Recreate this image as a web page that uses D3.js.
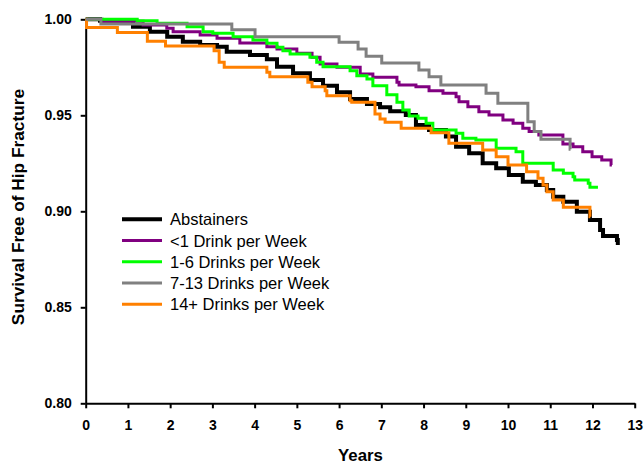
<!DOCTYPE html>
<meta charset="utf-8">
<style>
body { margin: 0; background: #fff; }
.axis text {
  font: bold 14px "Liberation Sans", Arial, sans-serif;
  fill: #000;
}
.axis path,
.axis line {
  fill: none;
  stroke: #000;
  stroke-width: 2px;
}
.title {
  font: bold 16.8px "Liberation Sans", Arial, sans-serif;
}
.ytitle {
  font: bold 17.3px "Liberation Sans", Arial, sans-serif;
}
.legend text {
  font: 16.5px "Liberation Sans", Arial, sans-serif;
}
</style>
<body>
<svg></svg>
<script src="https://cdn.jsdelivr.net/npm/d3@7"></script>
<script>

// [years, survival] step points
var abstainers = [[0,1.0],[0.34,0.9993],[1.12,0.9961],[1.52,0.9935],[1.93,0.9909],[2.3,0.9883],
  [2.71,0.9866],[3.11,0.9857],[3.34,0.9831],[3.89,0.9814],[4.29,0.9792],[4.53,0.9753],[4.91,0.9719],
  [5.31,0.9684],[5.62,0.9654],[5.95,0.962],[6.26,0.9585],[6.66,0.9559],[6.97,0.9542],[7.21,0.9521],
  [7.58,0.9502],[7.82,0.9449],[8.13,0.9423],[8.53,0.9389],[8.77,0.9336],[9.08,0.9302],[9.4,0.925],
  [9.72,0.9224],[10.02,0.9189],[10.35,0.9154],[10.66,0.9137],[10.92,0.9111],[11.07,0.9076],
  [11.31,0.905],[11.63,0.8998],[11.94,0.8955],[12.18,0.8903],[12.25,0.8871],[12.58,0.8851],[12.6,0.8825]];

var lessThanOne = [[0,1.0],[0.39,0.999],[1.36,0.997],[1.92,0.9953],[2.07,0.9935],[2.71,0.9918],
  [3.11,0.9901],[3.65,0.9877],[4.29,0.9857],[4.53,0.9845],[5.0,0.9823],[5.36,0.9802],[5.55,0.9767],
  [5.95,0.975],[6.5,0.9715],[6.8,0.9698],[7.37,0.9672],[7.42,0.9658],[7.82,0.9649],[8.13,0.9628],
  [8.46,0.9615],[8.77,0.9597],[8.84,0.9571],[9.05,0.9545],[9.31,0.9518],[9.55,0.9501],[9.88,0.9475],
  [10.12,0.9458],[10.35,0.9432],[10.5,0.9415],[10.73,0.9397],[11.3,0.935],[11.54,0.9336],
  [11.77,0.931],[11.99,0.9284],[12.22,0.9267],[12.44,0.9241],[12.46,0.9241]];

var oneToSix = [[0,1.0],[1.22,0.9993],[1.69,0.9979],[2.4,0.9961],[2.78,0.9935],[3.01,0.9927],
  [3.49,0.9909],[3.96,0.9892],[4.29,0.9875],[4.53,0.9854],[4.67,0.9836],[4.84,0.9819],[5.31,0.9802],
  [5.47,0.9776],[5.62,0.9753],[6.26,0.9732],[6.42,0.9706],[6.66,0.9689],[6.8,0.9654],[7.13,0.9607],
  [7.37,0.9568],[7.51,0.9528],[7.66,0.9496],[7.87,0.9484],[8.06,0.9458],[8.22,0.9423],[8.77,0.9406],
  [8.93,0.938],[9.24,0.9371],[9.72,0.9328],[10.19,0.931],[10.35,0.925],[11.07,0.9215],[11.31,0.9198],
  [11.54,0.918],[11.58,0.9163],[11.9,0.9146],[11.94,0.9125],[12.13,0.9125]];

var sevenToThirteen = [[0,1.0],[0.36,0.9976],[3.46,0.9945],[4.01,0.9909],[6.0,0.988],[6.45,0.9845],
  [6.64,0.9807],[7.01,0.9772],[7.89,0.9736],[8.13,0.9701],[8.41,0.9658],[9.48,0.9615],[9.76,0.9563],
  [10.47,0.9467],[10.62,0.9415],[10.78,0.9375],[11.47,0.9323],[11.48,0.9323]];

var fourteenPlus = [[0,1.0],[0.02,0.9957],[0.75,0.9931],[1.46,0.9886],[1.89,0.9861],[3.04,0.9836],
  [3.16,0.9776],[3.28,0.975],[4.29,0.9724],[4.36,0.9701],[5.26,0.9672],[5.36,0.9649],[5.67,0.9628],
  [5.71,0.9602],[6.26,0.9576],[6.3,0.9568],[6.85,0.9507],[6.97,0.9481],[7.09,0.9464],[7.47,0.9432],
  [8.18,0.9409],[8.6,0.9354],[9.4,0.9319],[9.72,0.9284],[10.0,0.9241],[10.44,0.9206],[10.71,0.9172],
  [10.83,0.9137],[10.92,0.9102],[11.07,0.9059],[11.31,0.9021],[11.94,0.8972],[11.95,0.8972]];

var seriesNames = ["Abstainers", "<1 Drink per Week", "1-6 Drinks per Week", "7-13 Drinks per Week", "14+ Drinks per Week"];
var seriesData = [abstainers, lessThanOne, oneToSix, sevenToThirteen, fourteenPlus];
var seriesColors = ["#000000", "#800080", "#00ff00", "#808080", "#ff8000"];
var seriesWidths = [4, 3, 3, 3, 3];
var drawOrder = [0, 1, 2, 4, 3];

var xTicks = d3.range(0, 14);
var yTicks = [0.80, 0.85, 0.90, 0.95, 1.00];

var margin = {top: 19.3, left: 85.7},
    width = 549,
    height = 384;

var svg = d3.select("svg")
    .attr("width", 644)
    .attr("height", 465);

var g = svg.append("g")
    .attr("transform", "translate(" + margin.left + "," + margin.top + ")");

var x = d3.scaleLinear().domain([0, 13]).range([0, width]);
var y = d3.scaleLinear().domain([0.80, 1.00]).range([height, 0]);

g.append("g")
    .attr("class", "x axis")
    .attr("transform", "translate(0," + height + ")")
    .call(d3.axisBottom(x).tickValues(xTicks).tickSize(5).tickSizeOuter(0).tickPadding(12));

g.append("g")
    .attr("class", "y axis")
    .call(d3.axisLeft(y).tickValues(yTicks).tickFormat(d3.format(".2f")).tickSize(5).tickSizeOuter(0).tickPadding(9));

var line = d3.line()
    .curve(d3.curveStepAfter)
    .x(function(d) { return x(d[0]); })
    .y(function(d) { return y(d[1]); });

drawOrder.forEach(function(i) {
  g.append("path")
      .datum(seriesData[i])
      .attr("fill", "none")
      .attr("stroke", seriesColors[i])
      .attr("stroke-width", seriesWidths[i])
      .attr("stroke-linejoin", "miter")
      .attr("d", line);
});

// legend
var legend = svg.append("g")
    .attr("class", "legend")
    .attr("transform", "translate(122,219.3)");

seriesNames.forEach(function(name, i) {
  var row = legend.append("g").attr("transform", "translate(0," + (i * 21.25) + ")");
  row.append("line")
      .attr("x1", 0).attr("x2", 40)
      .attr("stroke", seriesColors[i])
      .attr("stroke-width", seriesWidths[i]);
  row.append("text")
      .attr("x", 48)
      .attr("y", 6)
      .text(name);
});

svg.append("text")
    .attr("class", "title")
    .attr("x", 360.5)
    .attr("y", 461)
    .attr("text-anchor", "middle")
    .text("Years");

svg.append("text")
    .attr("class", "ytitle")
    .attr("transform", "translate(24," + 207 + ") rotate(-90)")
    .attr("text-anchor", "middle")
    .text("Survival Free of Hip Fracture");

</script>
